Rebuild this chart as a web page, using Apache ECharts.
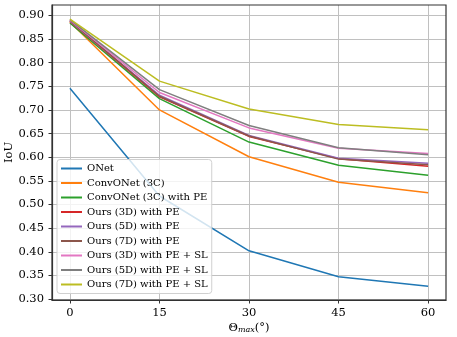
<!DOCTYPE html>
<html>
<head>
<meta charset="utf-8">
<script src="https://cdn.jsdelivr.net/npm/echarts@6/dist/echarts.min.js"></script>
<style>html,body{margin:0;padding:0;background:#fff}#c{width:457px;height:337px}</style>
</head>
<body>
<div id="c"></div>
<script>
var thetaMax = [0, 15, 30, 45, 60];
var seriesNames = ['ONet', 'ConvONet (3C)', 'ConvONet (3C) with PE', 'Ours (3D) with PE', 'Ours (5D) with PE', 'Ours (7D) with PE', 'Ours (3D) with PE + SL', 'Ours (5D) with PE + SL', 'Ours (7D) with PE + SL'];
var onet        = [0.746, 0.518, 0.402, 0.347, 0.327];
var convOnet3c  = [0.886, 0.700, 0.601, 0.547, 0.525];
var convOnetPE  = [0.884, 0.724, 0.632, 0.583, 0.562];
var ours3dPE    = [0.887, 0.728, 0.644, 0.597, 0.581];
var ours5dPE    = [0.888, 0.731, 0.646, 0.598, 0.587];
var ours7dPE    = [0.889, 0.729, 0.645, 0.596, 0.584];
var ours3dPESL  = [0.890, 0.737, 0.662, 0.619, 0.608];
var ours5dPESL  = [0.891, 0.743, 0.667, 0.620, 0.605];
var ours7dPESL  = [0.892, 0.761, 0.702, 0.669, 0.658];
var xTicks = [0, 15, 30, 45, 60];
var yTicks = [0.30, 0.35, 0.40, 0.45, 0.50, 0.55, 0.60, 0.65, 0.70, 0.75, 0.80, 0.85, 0.90];

var allData = [onet, convOnet3c, convOnetPE, ours3dPE, ours5dPE, ours7dPE, ours3dPESL, ours5dPESL, ours7dPESL];
var colors = ['#1f77b4', '#ff7f0e', '#2ca02c', '#d62728', '#9467bd', '#8c564b', '#e377c2', '#7f7f7f', '#bcbd22'];
var font = 'DejaVu Serif';

var series = allData.map(function (d, i) {
  return {
    name: seriesNames[i],
    type: 'line',
    data: thetaMax.map(function (x, j) { return [x, d[j]]; }),
    showSymbol: false,
    symbol: 'none',
    lineStyle: { width: 1.5, color: colors[i] },
    itemStyle: { color: colors[i] },
    z: 3 + i,
    animation: false
  };
});

var chart = echarts.init(document.getElementById('c'), null, { renderer: 'canvas' });
chart.setOption({
  animation: false,
  color: colors,
  grid: { left: 52, right: 11, top: 5, bottom: 37, containLabel: false, outerBoundsMode: 'none' },
  xAxis: {
    type: 'value', min: -3, max: 63,
    name: 'Θ{sub|max}(°)',
    nameLocation: 'middle', nameGap: 22, nameMoveOverlap: false,
    nameTextStyle: { fontFamily: font, fontSize: 11.5, color: '#000',
      rich: { sub: { fontFamily: font, fontStyle: 'italic', fontSize: 8, color: '#000', verticalAlign: 'bottom', padding: [4, 0, 0, 0] } } },
    axisLine: { show: true, onZero: false, lineStyle: { color: '#333', width: 1.2 } },
    axisTick: { show: true, length: 3.5, lineStyle: { color: '#333' }, customValues: xTicks },
    axisLabel: { fontFamily: font, fontSize: 11.5, color: '#000', margin: 7, customValues: xTicks },
    splitLine: { show: true, lineStyle: { color: '#c0c0c0', width: 1 }, customValues: xTicks }
  },
  yAxis: {
    type: 'value', min: 0.298, max: 0.922,
    name: 'IoU', nameLocation: 'middle', nameGap: 37, nameMoveOverlap: false,
    nameTextStyle: { fontFamily: font, fontSize: 11.5, color: '#000' },
    axisLine: { show: true, onZero: false, lineStyle: { color: '#333', width: 1.2 } },
    axisTick: { show: true, length: 3.5, lineStyle: { color: '#333' }, customValues: yTicks },
    axisLabel: { fontFamily: font, fontSize: 11.5, color: '#000', margin: 8, customValues: yTicks,
      formatter: function (v) { return v.toFixed(2); } },
    splitLine: { show: true, lineStyle: { color: '#c0c0c0', width: 1 }, customValues: yTicks }
  },
  legend: {
    orient: 'vertical', left: 57, top: 159.5,
    data: seriesNames,
    icon: 'rect', itemWidth: 21, itemHeight: 2, itemGap: 2.5,
    padding: [3, 4, 3, 4],
    backgroundColor: 'rgba(255,255,255,0.8)', borderColor: '#d0d0d0', borderWidth: 1, borderRadius: 3,
    textStyle: { fontFamily: font, fontSize: 10, color: '#000', lineHeight: 12 }
  },
  series: series.concat([{
    type: 'line', data: [], silent: true,
    markArea: { silent: true, itemStyle: { color: 'transparent', borderColor: '#333', borderWidth: 1.2 },
      data: [[{ coord: [-3, 0.298] }, { coord: [63, 0.922] }]] }
  }])
});
</script>
</body>
</html>
